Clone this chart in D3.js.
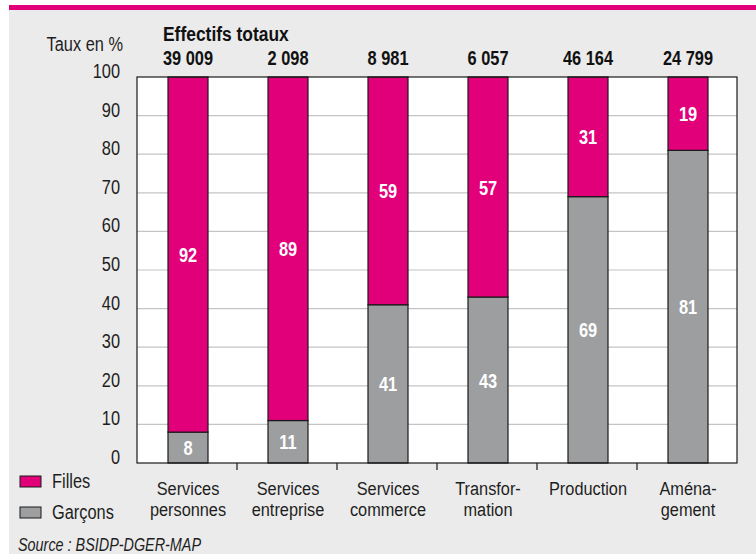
<!DOCTYPE html>
<html>
<head>
<meta charset="utf-8">
<script src="https://cdn.jsdelivr.net/npm/d3@7"></script>
<style>
  body { margin: 0; background: #fff; }
  svg text { font-family: "Liberation Sans", Arial, sans-serif; }
</style>
</head>
<body>
<svg id="chart" width="756" height="554"></svg>
<script>
// data
var categories = [["Services", "personnes"], ["Services", "entreprise"], ["Services", "commerce"],
                  ["Transfor-", "mation"], ["Production"], ["Aména-", "gement"]];
var effectifs = ["39 009", "2 098", "8 981", "6 057", "46 164", "24 799"];
var filles = [92, 89, 59, 57, 31, 19];
var garcons = [8, 11, 41, 43, 69, 81];
var yTicks = [0, 10, 20, 30, 40, 50, 60, 70, 80, 90, 100];

var PINK = "#e2007a", GREY = "#9d9ea0";
var NARROW = 0.78; // no condensed font installed, squeeze Liberation Sans instead
var FS = 21;

var svg = d3.select("#chart");
var margin = {left: 137, right: 19, top: 77, bottom: 91};
var W = 756 - margin.left - margin.right, H = 554 - margin.top - margin.bottom;

// put a squeezed text at (px, py)
function label(parent, px, py, txt, size, anchor, sx) {
    return parent.append("text")
        .attr("transform", "translate(" + px + "," + py + ") scale(" + (sx || NARROW) + ",1)")
        .attr("text-anchor", anchor || "start")
        .attr("font-size", size)
        .attr("fill", "#1e1e1e")
        .text(txt);
}

// background
svg.append("rect").attr("x", 9).attr("y", 5).attr("width", 747).attr("height", 549).attr("fill", "#ebebeb");
svg.append("rect").attr("x", 9).attr("y", 5).attr("width", 747).attr("height", 5).attr("fill", PINK);

var x = d3.scaleBand().domain(d3.range(categories.length)).range([0, W]);
var y = d3.scaleLinear().domain([0, 100]).range([H, 0]);
var bw = 40;
var cx = function(i) { return x(i) + x.bandwidth() / 2 + 1; };

var g = svg.append("g").attr("transform", "translate(" + margin.left + "," + margin.top + ")");
g.append("rect").attr("width", W).attr("height", H).attr("fill", "#fff");

// gridlines
g.selectAll("line.grid").data(yTicks.slice(1, -1)).enter().append("line")
  .attr("x1", 0).attr("x2", W).attr("y1", function(d) { return y(d); }).attr("y2", function(d) { return y(d); })
  .attr("stroke", "#c4c4c4").attr("stroke-width", 1.2);

// y labels
yTicks.forEach(function(d) { label(g, -17, y(d) + 1, d, FS, "end"); });
label(svg, 123, 51, "Taux en %", FS, "end");

// bars
garcons.forEach(function(v, i) {
    g.append("rect")
      .attr("x", cx(i) - bw / 2).attr("width", bw)
      .attr("y", y(v)).attr("height", H - y(v))
      .attr("fill", GREY).attr("stroke", "#1a1a1a").attr("stroke-width", 1.2);
    g.append("rect")
      .attr("x", cx(i) - bw / 2).attr("width", bw)
      .attr("y", y(v + filles[i])).attr("height", y(v) - y(v + filles[i]))
      .attr("fill", PINK).attr("stroke", "#1a1a1a").attr("stroke-width", 1.2);

    label(g, cx(i), (y(v) + H) / 2 + 7.5, v, FS, "middle")
      .attr("font-weight", "bold").attr("fill", "#fff");
    label(g, cx(i), (y(v) + y(v + filles[i])) / 2 + 7.5, filles[i], FS, "middle")
      .attr("font-weight", "bold").attr("fill", "#fff");

    // totals on top
    label(g, cx(i), -12, effectifs[i], FS, "middle").attr("font-weight", "bold").attr("fill", "#111");

    // category names, one text with a line per tspan
    var t = label(g, cx(i), H + 32, null, 19, "middle", 0.86);
    t.selectAll("tspan").data(categories[i]).enter().append("tspan")
      .attr("x", 0).attr("dy", function(d, j) { return j ? 21.5 : 0; })
      .text(function(d) { return d; });
});
label(g, 26, -36, "Effectifs totaux", FS, "start", 0.83).attr("font-weight", "bold").attr("fill", "#111");

// frame
g.append("rect").attr("width", W).attr("height", H).attr("fill", "none")
  .attr("stroke", "#1a1a1a").attr("stroke-width", 1.2);

// ticks between categories
g.selectAll("line.tick").data(d3.range(1, categories.length)).enter().append("line")
  .attr("x1", function(i) { return x(i); }).attr("x2", function(i) { return x(i); })
  .attr("y1", H).attr("y2", H + 7).attr("stroke", "#1a1a1a").attr("stroke-width", 1.2);

// legend
var legend = [["Filles", PINK], ["Garçons", GREY]];
legend.forEach(function(d, i) {
    var lg = svg.append("g").attr("transform", "translate(20," + (476 + i * 31) + ")");
    lg.append("rect").attr("width", 21).attr("height", 11)
      .attr("fill", d[1]).attr("stroke", "#1a1a1a").attr("stroke-width", 1);
    label(lg, 32, 12, d[0], FS);
});

label(svg, 18, 551, "Source : BSIDP-DGER-MAP", 18, "start", 0.8).attr("font-style", "italic");
</script>
</body>
</html>
